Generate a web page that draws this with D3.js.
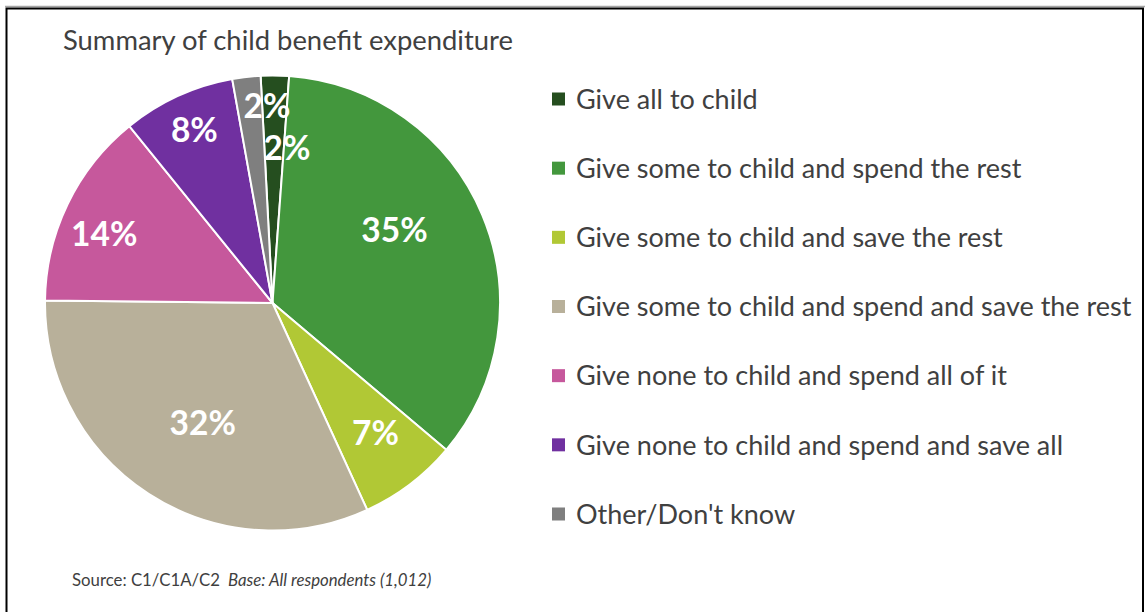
<!DOCTYPE html>
<html>
<head>
<meta charset="utf-8">
<script src="https://cdn.jsdelivr.net/npm/d3@7"></script>
<style>
  html, body { margin: 0; padding: 0; background: #fff; }
  svg { display: block; }
</style>
</head>
<body>
<svg id="chart" width="1145" height="612"></svg>
<script>
// Child benefit spending categories and their shares (%)
const categories = [
  "Give all to child",
  "Give some to child and spend the rest",
  "Give some to child and save the rest",
  "Give some to child and spend and save the rest",
  "Give none to child and spend all of it",
  "Give none to child and spend and save all",
  "Other/Don't know"
];
const shares = [2, 35, 7, 32, 14, 8, 2];
const sliceColors = ["#254e1f", "#43973d", "#b1c835", "#b8b09a", "#c6589c", "#7030a0", "#7f7f7f"];

const titleText = "Summary of child benefit expenditure";
const sourceText = "Source: C1/C1A/C2";
const baseText = "Base: All respondents (1,012)";

const W = 1145, H = 612;
const svg = d3.select("#chart");
const textFont = "Lato, 'Open Sans', sans-serif";
const textColor = "#404040";

// Frame around the chart area
svg.append("line")
  .attr("x1", 5).attr("x2", 1145).attr("y1", 6.5).attr("y2", 6.5)
  .attr("stroke", "#a6a6a6").attr("stroke-width", 1.5);
svg.append("rect")
  .attr("x", 6.5).attr("y", 8.5).attr("width", 1136.5).attr("height", 640)
  .attr("fill", "#fff").attr("stroke", "#000").attr("stroke-width", 2);

// Title
svg.append("text")
  .attr("x", 63).attr("y", 40).attr("dy", "0.35em")
  .attr("font-family", textFont).attr("font-size", 27.4)
  .attr("fill", textColor)
  .text(titleText);

// Pie
const cx = 272.5, cy = 303, radius = 227.5;
const startOffset = -3 * Math.PI / 180;
const data = categories.map((c, i) => ({ name: c, value: shares[i], color: sliceColors[i] }));
const pie = d3.pie().sort(null).value(d => d.value)
  .startAngle(startOffset).endAngle(startOffset + 2 * Math.PI);
const arcs = pie(data);
const arc = d3.arc().innerRadius(0).outerRadius(radius);

const g = svg.append("g").attr("transform", `translate(${cx},${cy})`);
g.selectAll("path.slice")
  .data(arcs)
  .join("path")
  .attr("class", "slice")
  .attr("d", arc)
  .attr("fill", d => d.data.color)
  .attr("stroke", "#fff")
  .attr("stroke-width", 2)
  .attr("stroke-linejoin", "round");

// Data label placement inside each slice: angular nudge (degrees) from the
// slice's mid-angle and distance from the centre as a fraction of the radius.
// The two narrow slices at the top are staggered so their labels don't collide.
const labelPlacement = [
  { turn: 4.7, k: 0.685 },
  { turn: -8.1, k: 0.625 },
  { turn: -1.1, k: 0.73 },
  { turn: -2.8, k: 0.61 },
  { turn: -3.4, k: 0.80 },
  { turn: 0.3, k: 0.835 },
  { turn: 5.0, k: 0.866 }
];
const labelPos = arcs.map((d, i) => {
  const p = labelPlacement[i];
  const a = (d.startAngle + d.endAngle) / 2 + p.turn * Math.PI / 180;
  return [Math.sin(a) * radius * p.k, -Math.cos(a) * radius * p.k];
});
g.selectAll("text.lbl")
  .data(arcs)
  .join("text")
  .attr("class", "lbl")
  .attr("x", (d, i) => labelPos[i][0])
  .attr("y", (d, i) => labelPos[i][1])
  .attr("dy", "0.36em")
  .attr("text-anchor", "middle")
  .attr("font-family", textFont)
  .attr("font-weight", 700)
  .attr("font-size", 33.5)
  .attr("fill", "#fff")
  .text(d => d.data.value + "%");

// Legend
const legendY = d3.scalePoint().domain(categories).range([99, 514]);
const legend = svg.append("g");
const rows = legend.selectAll("g.row")
  .data(data)
  .join("g")
  .attr("class", "row")
  .attr("transform", d => `translate(0,${legendY(d.name)})`);
rows.append("rect")
  .attr("x", 552).attr("y", -6.5).attr("width", 13).attr("height", 13)
  .attr("fill", d => d.color);
rows.append("text")
  .attr("x", 576).attr("y", 0).attr("dy", "0.36em")
  .attr("font-family", textFont).attr("font-size", 27)
  .attr("fill", textColor)
  .text(d => d.name);

// Source note
const note = svg.append("text")
  .attr("x", 72).attr("y", 580).attr("dy", "0.35em")
  .attr("font-family", textFont).attr("font-size", 16.8)
  .attr("fill", textColor);
note.append("tspan").text(sourceText);
note.append("tspan").attr("dx", 8).attr("font-style", "italic").text(baseText);
</script>
</body>
</html>
